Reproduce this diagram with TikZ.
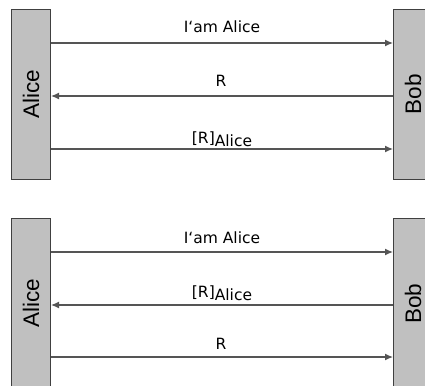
\documentclass[tikz,border=0pt]{standalone}
\usepackage{fontspec}
\setmainfont{DejaVu Sans}
\newfontfamily\partyfont{Liberation Sans}
\usetikzlibrary{arrows.meta,positioning}
\definecolor{boxgray}{RGB}{192,192,192}
\definecolor{edgegray}{RGB}{64,64,64}
\definecolor{msggray}{RGB}{85,85,85}
\tikzset{
  party/.style    = {draw=edgegray, fill=boxgray, line width=1pt, inner sep=0pt,
                     minimum width=39pt, minimum height=170pt, anchor=north west,
                     font=\partyfont\fontsize{22.5}{24}\selectfont},
  msg/.style      = {draw=msggray, line width=1.2pt, -{Latex[length=8pt,width=7pt]}},
  msglabel/.style = {inner sep=0pt, anchor=base, font=\fontsize{15.5}{18}\selectfont}
}
\newcommand{\signed}[1]{[#1]\raisebox{-3.5pt}{Alice}}

\begin{document}
\begin{tikzpicture}[x=1pt,y=-1pt]
\useasboundingbox (0,0) rectangle (425,385);
\clip (0,0) rectangle (425,385);

% first exchange
\node[party] (alice1) at (11,9)   {\rotatebox{90}{Alice}};
\node[party] (bob1)   at (393,9)  {\rotatebox{90}{Bob}};

\coordinate (m11) at (0,43);
\coordinate (m12) at (0,96);
\coordinate (m13) at (0,149);

\node[msglabel] (l11) at (222,33)  {I‘am Alice};
\node[msglabel] (l12) at (221,87)  {R};
\node[msglabel] (l13) at (222,143) {\signed{R}};

\draw[msg] (alice1.east |- m11) -- (bob1.west |- m11);
\draw[msg] (bob1.west |- m12) -- (alice1.east |- m12);
\draw[msg] (alice1.east |- m13) -- (bob1.west |- m13);

% second exchange
\node[party] (alice2) at (11,218)  {\rotatebox{90}{Alice}};
\node[party] (bob2)   at (393,218) {\rotatebox{90}{Bob}};

\coordinate (m21) at (0,252);
\coordinate (m22) at (0,305);
\coordinate (m23) at (0,357);

\node[msglabel] (l21) at (222,243) {I‘am Alice};
\node[msglabel] (l22) at (222,297) {\signed{R}};
\node[msglabel] (l23) at (221,349) {R};

\draw[msg] (alice2.east |- m21) -- (bob2.west |- m21);
\draw[msg] (bob2.west |- m22) -- (alice2.east |- m22);
\draw[msg] (alice2.east |- m23) -- (bob2.west |- m23);

\end{tikzpicture}
\end{document}
